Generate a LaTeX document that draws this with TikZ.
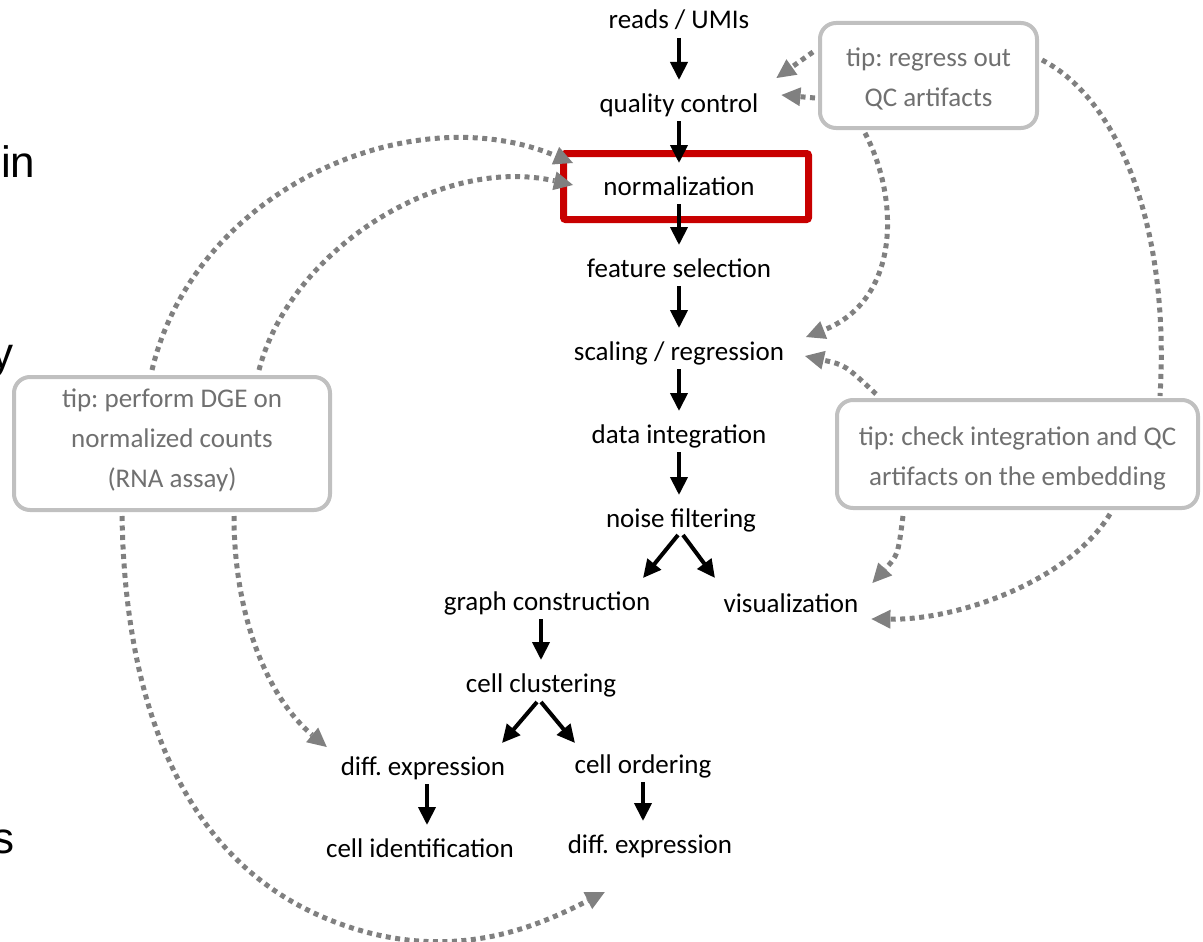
\documentclass[tikz,border=0pt]{standalone}
\usepackage{fontspec}
\setmainfont{Carlito}
\newfontfamily\arialf{Liberation Sans}
\usetikzlibrary{arrows.meta,calc}
\definecolor{tipgray}{RGB}{112,112,112}
\definecolor{boxgray}{RGB}{192,192,192}
\definecolor{dotgray}{RGB}{128,128,128}
\definecolor{hlred}{RGB}{200,0,0}
\newcommand{\tstr}[2]{\rule[-#2pt]{0pt}{#1pt}}
\frenchspacing
\begin{document}
\begin{tikzpicture}[x=1pt,y=-1pt,
  stepnode/.style={font=\fontsize{27}{32}\selectfont, inner sep=0pt, outer sep=0pt,
    text height=20pt, text depth=7pt, anchor=base},
  flow/.style={line width=4pt, -{Triangle[length=18pt,width=17pt]}},
  vflow/.style={flow, shorten <=2pt, shorten >=12pt},
  tipbox/.style={draw=boxgray, line width=4pt, rounded corners=16pt, fill=white,
    text=tipgray, align=center, inner sep=0pt, font=\fontsize{27}{40}\selectfont},
  hint/.style={draw=dotgray, line width=5pt, dash pattern=on 5pt off 4.5pt},
  hintarrow/.style={hint, -{Triangle[length=19pt,width=19pt,line width=0pt]}, fill=none},
  hlbox/.style={draw=hlred, line width=7pt, minimum width=245pt, minimum height=66pt,
    inner sep=0pt, rounded corners=2pt},
  edgetext/.style={font=\arialf\fontsize{44}{50}\selectfont, inner sep=0pt}
]
\useasboundingbox (0,0) rectangle (1203,942);

% partial slide text at left edge
\node[edgetext, anchor=base west] (t1) at (1,177) {in};
\node[edgetext, anchor=base east] (t2) at (14,368) {y};
\node[edgetext, anchor=base east] (t3) at (15,853) {s};

% highlight
\node[hlbox] (hl) at (686,186.5) {};

% pipeline steps
\node[stepnode] (reads) at (679,29) {reads / UMIs};
\node[stepnode] (qc) at (679,112) {quality control};
\node[stepnode] (norm) at (679,195) {normalization};
\node[stepnode] (feat) at (679,277) {feature selection};
\node[stepnode] (scal) at (679,360) {scaling / regression};
\node[stepnode] (integ) at (679,443) {data integration};
\node[stepnode] (noise) at (681,527) {noise filtering};
\node[stepnode] (graph) at (547,610) {graph construction};
\node[stepnode] (vis) at (791,612) {visualization};
\node[stepnode] (clust) at (541,692) {cell clustering};
\node[stepnode] (dexl) at (423,775) {diff. expression};
\node[stepnode] (order) at (643,773) {cell ordering};
\node[stepnode] (ident) at (420,857) {cell identification};
\node[stepnode] (dexr) at (650,853) {diff. expression};

% tip boxes
\node[tipbox, minimum width=217pt, minimum height=105pt] (rg) at (928.5,75.5)
  {\tstr{25}{0}tip: regress out\\QC artifacts\tstr{0}{2}};
\node[tipbox, minimum width=361pt, minimum height=108pt] (ck) at (1017.5,454)
  {\tstr{29}{0}tip: check integration and QC\\artifacts on the embedding\tstr{0}{7}};
\node[tipbox, minimum width=316pt, minimum height=133pt] (dge) at (172,443.5)
  {\tstr{19}{0}tip: perform DGE on\\normalized counts\\(RNA assay)\tstr{0}{11}};

% main flow arrows
\draw[vflow] (reads.south) -- (qc.north);
\draw[vflow] (qc.south) -- (norm.north);
\draw[vflow] (norm.south) -- (feat.north);
\draw[vflow] (feat.south) -- (scal.north);
\draw[vflow] (scal.south) -- (integ.north);
\draw[vflow] (integ.south) -- (integ.south |- noise.north);
\draw[flow] ($(noise.south)+(-3,1)$) -- ($(graph.north)+(96,-12)$);
\draw[flow] ($(noise.south)+(2,1)$) -- ($(vis.north)+(-76,-14)$);
\draw[vflow] (clust.north |- graph.south) -- (clust.north);
\draw[flow] ($(clust.south)+(-4,3)$) -- ($(dexl.north)+(79,-12)$);
\draw[flow] ($(clust.south)+(0,3)$) -- ($(order.north)+(-68,-10)$);
\draw[vflow] ([xshift=4pt]dexl.south) -- ([xshift=4pt]dexl.south |- ident.north);
\draw[vflow] (order.south) -- (order.south |- dexr.north);

% dotted hint connectors
\draw[hintarrow] ($(rg.west)+(-5,-23.5)$) -- ($(qc.east)+(18,-27.5)$);
\draw[hintarrow] ($(rg.west)+(-3,22.5)$) -- ($(qc.east)+(23,-10.5)$);
\draw[hintarrow] ($(rg.south)+(-63.5,3)$) .. controls (900,200) and (900,300) .. ($(scal.east)+(22,-16.5)$);
\draw[hintarrow] ($(ck.north west)+(41,-4)$) .. controls (845,365) .. ($(scal.east)+(21,2.5)$);
\draw[hintarrow] ($(ck.south west)+(68,6)$) .. controls (898,555) .. ($(vis.east)+(14,-22.5)$);
\draw[hint] ($(rg.east)+(3,-15.5)$) .. controls (1120,100) and (1170,230) .. ($(ck.north east)+(-40,-2)$);
\draw[hintarrow] ($(ck.south east)+(-90,4)$) .. controls (1070,580) and (960,620) .. ($(vis.east)+(13,13.5)$);
\draw[hintarrow] ($(dge.north)+(-20,-5)$) .. controls (195,190) and (410,95) .. ($(hl.west)+(13,-23.5)$);
\draw[hintarrow] ($(dge.north)+(87,-5)$) .. controls (290,250) and (440,155) .. ($(hl.west)+(13,-1.5)$);
\draw[hintarrow] ($(dge.south)+(62,4)$) .. controls (234,620) and (270,700) .. ($(dexl.west)+(-14,-21.5)$);
\draw[hintarrow] ($(dge.south)+(-50,4)$) .. controls (125,700) and (180,860) .. (330,920)
  .. controls (450,968) and (540,925) .. ($(dexr.south west)+(37,32)$);
\end{tikzpicture}
\end{document}
